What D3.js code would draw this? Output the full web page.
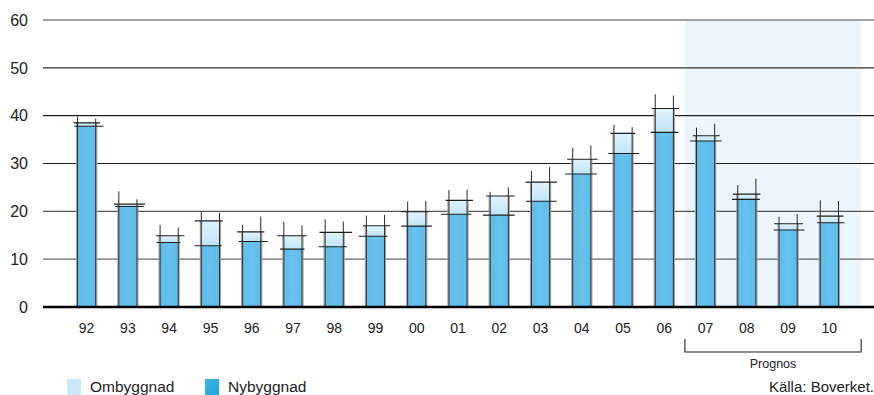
<!DOCTYPE html>
<html>
<head>
<meta charset="utf-8">
<script src="https://cdn.jsdelivr.net/npm/d3@7"></script>
<style>
  html, body { margin: 0; padding: 0; background: #fff; }
  svg { display: block; font-family: "Liberation Sans", Arial, sans-serif; }
</style>
</head>
<body>
<svg id="chart" width="874" height="395"></svg>
<script>
// Building volume per year, 1992–2010 (2007–2010 forecast)
const years = ["92","93","94","95","96","97","98","99","00","01","02","03","04","05","06","07","08","09","10"];
const nybyggnad = [37.8, 21.0, 13.5, 12.8, 13.7, 12.1, 12.6, 14.8, 16.9, 19.4, 19.2, 22.1, 27.8, 32.1, 36.5, 34.7, 22.5, 16.1, 17.6];
const ombyggnad = [0.7, 0.5, 1.4, 5.2, 2.0, 2.8, 3.0, 2.2, 3.0, 2.9, 4.0, 4.0, 3.1, 4.2, 5.0, 1.1, 1.1, 1.3, 1.4];
const yTicks = [0, 10, 20, 30, 40, 50, 60];
const forecastYears = ["07", "10"];
const seriesNames = ["Ombyggnad", "Nybyggnad"];
const source = "Källa: Boverket.";
const forecastLabel = "Prognos";

const svg = d3.select("#chart");
const W = 874;

const x = d3.scaleBand().domain(years).range([66, 850]).paddingInner(0.56).paddingOuter(0.28);
const y = d3.scaleLinear().domain([0, 60]).range([307, 20]);
const step = x.step(), bw = x.bandwidth();

// deterministic wobble for the hand-drawn strokes
const wob = (i, k) => { const s = Math.sin(i * 12.9898 + k * 78.233) * 43758.5453; return s - Math.floor(s); };

const defs = svg.append("defs");
const gNew = defs.append("linearGradient").attr("id", "gNew").attr("x1", 0).attr("x2", 1).attr("y1", 0).attr("y2", 0);
gNew.append("stop").attr("offset", "0%").attr("stop-color", "#5dbbe8");
gNew.append("stop").attr("offset", "50%").attr("stop-color", "#68c3ee");
gNew.append("stop").attr("offset", "100%").attr("stop-color", "#5cb9e6");
const hatch = defs.append("pattern").attr("id", "hatch").attr("width", 6).attr("height", 6)
  .attr("patternUnits", "userSpaceOnUse").attr("patternTransform", "rotate(-40)");
hatch.append("rect").attr("width", 6).attr("height", 6).attr("fill", "#62bfeb");
hatch.append("line").attr("x1", 0).attr("y1", 0).attr("x2", 0).attr("y2", 6)
  .attr("stroke", "#8ad2f3").attr("stroke-width", 1.2).attr("opacity", 0.35);
const gOld = defs.append("linearGradient").attr("id", "gOld").attr("x1", 0).attr("x2", 0).attr("y1", 0).attr("y2", 1);
gOld.append("stop").attr("offset", "0%").attr("stop-color", "#e2f3fc");
gOld.append("stop").attr("offset", "100%").attr("stop-color", "#bfe4f7");
const gLeg = defs.append("linearGradient").attr("id", "gLeg").attr("x1", 0).attr("x2", 1).attr("y1", 0).attr("y2", 1);
gLeg.append("stop").attr("offset", "0%").attr("stop-color", "#3fb6e6");
gLeg.append("stop").attr("offset", "100%").attr("stop-color", "#1fa3dc");

// forecast shading
const fx0 = x(forecastYears[0]) - (step - bw) / 2;
const fx1 = x(forecastYears[1]) + bw + step * 0.55;
svg.append("rect").attr("x", fx0).attr("y", y(60)).attr("width", fx1 - fx0).attr("height", y(0) - y(60))
  .attr("fill", "#edf6fd");

// gridlines
const gridColor = { 60: "#858585", 50: "#6a6a6a", 40: "#1e1e1e", 30: "#1e1e1e", 20: "#555", 10: "#666" };
svg.append("g").selectAll("line").data(yTicks.filter(d => d > 0)).join("line")
  .attr("x1", 43).attr("x2", W).attr("y1", d => y(d)).attr("y2", d => y(d))
  .attr("stroke", d => gridColor[d]).attr("stroke-width", d => d >= 50 ? 1.6 : 1.2);

// y tick labels
svg.append("g").selectAll("text").data(yTicks).join("text")
  .attr("x", 28).attr("y", d => y(d)).attr("dy", "0.36em").attr("text-anchor", "end")
  .attr("font-size", 16).attr("fill", "#222").text(d => d);

// bars
const bars = svg.append("g").selectAll("g").data(years).join("g");
bars.append("rect")
  .attr("x", d => x(d)).attr("width", bw)
  .attr("y", (d, i) => y(nybyggnad[i])).attr("height", (d, i) => y(0) - y(nybyggnad[i]))
  .attr("fill", "url(#gNew)");
bars.append("rect")
  .attr("x", d => x(d)).attr("width", bw)
  .attr("y", (d, i) => y(nybyggnad[i])).attr("height", (d, i) => y(0) - y(nybyggnad[i]))
  .attr("fill", "url(#hatch)").attr("opacity", 0.5);
bars.append("rect")
  .attr("x", d => x(d)).attr("width", bw)
  .attr("y", (d, i) => y(nybyggnad[i] + ombyggnad[i])).attr("height", (d, i) => y(nybyggnad[i]) - y(nybyggnad[i] + ombyggnad[i]))
  .attr("fill", "url(#gOld)");

// soft outer edge
bars.append("path")
  .attr("d", (d, i) => {
    const t = y(nybyggnad[i] + ombyggnad[i]);
    return `M${x(d) - 1},${y(0)}V${t}M${x(d) + bw + 1},${y(0)}V${t}`;
  })
  .attr("stroke", "#a5a5a5").attr("stroke-width", 1.2).attr("fill", "none");

// sketch strokes: bar sides overshooting the top
bars.append("path")
  .attr("d", (d, i) => {
    const t = y(nybyggnad[i] + ombyggnad[i]);
    const l = t - 4 - wob(i, 1) * 12, r = t - 4 - wob(i, 2) * 12;
    return `M${x(d)},${y(0)}V${l}M${x(d) + bw},${y(0)}V${r}`;
  })
  .attr("stroke", "#2a2a2a").attr("stroke-width", 1).attr("fill", "none");

// sketch strokes: horizontal marks at both segment tops
bars.append("path")
  .attr("d", (d, i) => {
    const t = y(nybyggnad[i] + ombyggnad[i]), n = y(nybyggnad[i]);
    const a = x(d) - 3 - wob(i, 3) * 4, b = x(d) + bw + 3 + wob(i, 4) * 6;
    const c = x(d) - 3 - wob(i, 5) * 5, e = x(d) + bw + 2 + wob(i, 6) * 6;
    return `M${a},${t}H${b}M${c},${n}H${e}`;
  })
  .attr("stroke", "#1e1e1e").attr("stroke-width", 1.1).attr("fill", "none");

// baseline
svg.append("line").attr("x1", 43).attr("x2", W).attr("y1", y(0)).attr("y2", y(0))
  .attr("stroke", "#000").attr("stroke-width", 2.6);

// x tick labels
svg.append("g").selectAll("text").data(years).join("text")
  .attr("x", d => x(d) + bw / 2).attr("y", 333).attr("text-anchor", "middle")
  .attr("font-size", 14).attr("fill", "#222").text(d => d);

// forecast bracket
svg.append("path")
  .attr("d", `M${fx0},339V352H${fx1}V339`)
  .attr("stroke", "#222").attr("stroke-width", 1.1).attr("fill", "none");
svg.append("text").attr("x", (fx0 + fx1) / 2).attr("y", 368).attr("text-anchor", "middle")
  .attr("font-size", 12.5).attr("fill", "#222").text(forecastLabel);

// legend
const legend = svg.append("g");
const legX = [67, 205];
const legFill = ["#cbe9f8", "url(#gLeg)"];
seriesNames.forEach((name, i) => {
  legend.append("rect").attr("x", legX[i]).attr("y", 379).attr("width", 14).attr("height", 17).attr("fill", legFill[i]);
  legend.append("text").attr("x", legX[i] + 23).attr("y", 392).attr("font-size", 15.5).attr("fill", "#222").text(name);
});
svg.append("text").attr("x", 874).attr("y", 392).attr("text-anchor", "end")
  .attr("font-size", 15).attr("fill", "#222").text(source);
</script>
</body>
</html>
